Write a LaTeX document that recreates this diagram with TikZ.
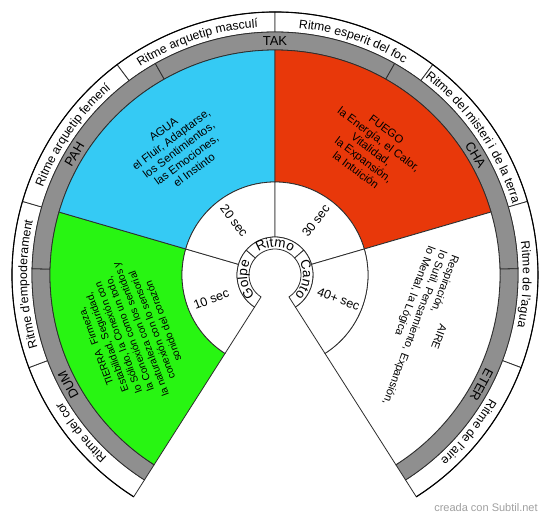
\documentclass[tikz,border=0pt]{standalone}
\usepackage{fontspec}
\setmainfont{Liberation Sans}
\usetikzlibrary{decorations.text}
\definecolor{cblue}{RGB}{53,202,244}
\definecolor{cred}{RGB}{232,56,10}
\definecolor{cgreen}{RGB}{40,245,18}
\definecolor{cgray}{RGB}{143,143,143}
\definecolor{cline}{RGB}{45,45,45}
\definecolor{cmark}{RGB}{160,160,160}
\newcommand\annsec[5]{%
  \path[#1] (#2:#4) arc[start angle=#2, end angle=#3, radius=#4] -- (#3:#5) arc[start angle=#3, end angle=#2, radius=#5] -- cycle;}
\newcommand\outerfont{\fontsize{12.3}{12.3}\selectfont}
\newcommand\innerfont{\fontsize{13.5}{13.5}\selectfont}
\newcommand\arctext[5]{% font, a1, a2, r, text
  \path[decorate,decoration={text along path,text align=center,text={|#1|#5}}] (#2:#4) arc[start angle=#2, end angle=#3, radius=#4];}
\begin{document}
\begin{tikzpicture}[x=1pt,y=1pt,
  seg/.style={draw=cline,line width=0.8pt},
  graylbl/.style={font=\fontsize{13}{13}\selectfont,text=black,inner sep=0pt},
  seclbl/.style={font=\fontsize{12.5}{12.5}\selectfont,inner sep=0pt},
  sectxt/.style={font=\fontsize{11.3}{12.8}\selectfont,align=center,inner sep=0pt}]
\useasboundingbox (-275,-244) rectangle (275,275);
\fill[white] (-275,-244) rectangle (275,275);
% outer text ring
\foreach \i in {0,...,7}{
  \pgfmathsetmacro\aa{237.5-36.875*\i}
  \pgfmathsetmacro\ab{\aa-36.875}
  \annsec{seg,fill=white}{\aa}{\ab}{243pt}{263pt}
}
% gray ring
\foreach \i in {0,...,4}{
  \pgfmathsetmacro\aa{237.5-59*\i}
  \pgfmathsetmacro\ab{\aa-59}
  \annsec{seg,fill=cgray}{\aa}{\ab}{225pt}{243pt}
}
% coloured sectors and seconds ring
\foreach \c [count=\i from 0] in {cgreen,cblue,cred,white}{
  \pgfmathsetmacro\aa{237.5-73.75*\i}
  \pgfmathsetmacro\ab{\aa-73.75}
  \annsec{seg,fill=\c}{\aa}{\ab}{93pt}{225pt}
  \annsec{seg,fill=white}{\aa}{\ab}{38pt}{93pt}
}
% inner ring
\foreach \i in {0,1,2}{
  \pgfmathsetmacro\aa{237.5-295/3*\i}
  \pgfmathsetmacro\ab{\aa-295/3}
  \annsec{seg,fill=white}{\aa}{\ab}{26pt}{38pt}
}
\draw[line width=1.1pt,draw=black] (237.5:263pt) arc[start angle=237.5,end angle=-57.5,radius=263pt];
% outer labels
\arctext{\outerfont}{237.5}{200.625}{248pt}{Ritme del cor}
\arctext{\outerfont}{200.625}{163.75}{248pt}{Ritme d'empoderament}
\arctext{\outerfont}{163.75}{126.875}{248pt}{Ritme arquetip femení}
\arctext{\outerfont}{126.875}{90}{248pt}{Ritme arquetip masculí}
\arctext{\outerfont}{90}{53.125}{248pt}{Ritme esperit del foc}
\arctext{\outerfont}{53.125}{16.25}{248pt}{Ritme del misteri i de la terra}
\arctext{\outerfont}{16.25}{-20.625}{248pt}{Ritme de l'agua}
\arctext{\outerfont}{-20.625}{-57.5}{248pt}{Ritme de l'aire}
% inner labels
\arctext{\innerfont}{237.5}{139.1667}{28pt}{Golpe}
\arctext{\innerfont}{139.1667}{40.8333}{28pt}{Ritmo}
\arctext{\innerfont}{40.8333}{-57.5}{28pt}{Canto}
% gray labels
\node[graylbl] (tak) at (90:234pt) {TAK};
\node[graylbl,rotate=-59] (cha) at (31:234pt) {CHA};
\node[graylbl,rotate=-118] (eter) at (-28:234pt) {ETER};
\node[graylbl,rotate=118] (dum) at (208:234pt) {DUM};
\node[graylbl,rotate=59] (pah) at (149:234pt) {PAH};
% seconds
\node[seclbl,rotate=-53.125] (s20) at (126.875:68pt) {20 sec};
\node[seclbl,rotate=53.125] (s30) at (53.125:68pt) {30 sec};
\node[seclbl,rotate=20.625] (s10) at (200.625:68pt) {10 sec};
\node[seclbl,rotate=-20.625] (s40) at (-20.625:68pt) {40+ sec};
% sector texts
\node[sectxt,rotate=36.875] (agua) at (127.5:158pt) {AGUA\\el Fluir, Adaptarse,\\los Sentimientos,\\las Emociones,\\el Instinto};
\node[sectxt,rotate=-36.875] (fuego) at (52.5:158pt) {FUEGO\\la Energía, el Calor,\\Vitalidad,\\la Expansión,\\la Intuición};
\node[sectxt,rotate=-110.6,font=\fontsize{11}{12.8}\selectfont] (aire) at (-20.625:155pt) {\begin{tabular}{@{}l@{}}\multicolumn{1}{@{}c@{}}{AIRE}\\Respiración,\\lo Sutil, Pensamiento, Expansión,\\lo Mental, la Lógica\end{tabular}};
\node[sectxt,rotate=110.6,font=\fontsize{10.2}{12}\selectfont] (tierra) at (202:157pt) {TIERRA\ \ Firmeza,\\Estabilidad, Seguridad,\\lo Sólido, la Conexión con\\la Conexión como un todo,\\la naturaleza con los sentidos y\\conexión con lo sensorial\\sonido del corazón};
\node[font=\fontsize{11}{11}\selectfont,text=cmark,inner sep=0pt] (mark) at (211,-233) {creada con Subtil.net};
\end{tikzpicture}
\end{document}
